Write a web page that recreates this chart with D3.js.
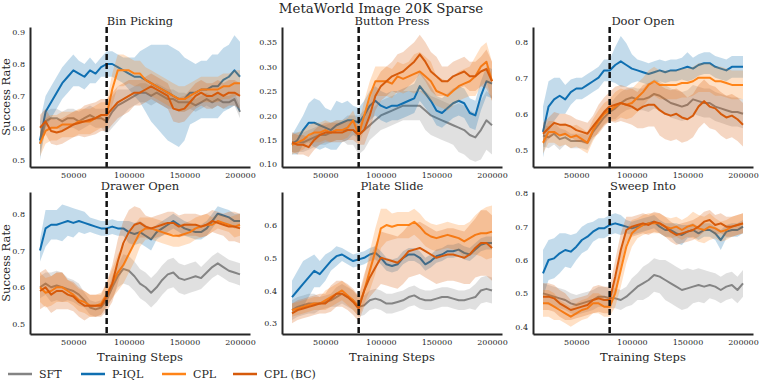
<!DOCTYPE html>
<html lang="en">
<head>
<meta charset="utf-8">
<title>MetaWorld Image 20K Sparse</title>
<script src="https://d3js.org/d3.v7.min.js"></script>
<style>
  body { margin: 0; background: #fff; }
  svg text { font-family: "DejaVu Serif", serif; fill: #262626; }
  .axis text { font-size: 8px; }
  .axis path { stroke: #262626; stroke-width: 2px; }
</style>
</head>
<body>
<script>
// training steps (x values)
const steps = [20000,25000,30000,35000,40000,45000,50000,55000,60000,65000,70000,75000,80000,85000,90000,95000,
  100000,105000,110000,115000,120000,125000,130000,135000,140000,145000,150000,155000,160000,165000,170000,175000,
  180000,185000,190000,195000,200000];

const methods = ["SFT", "P-IQL", "CPL", "CPL (BC)"];
const colors = ["#848484", "#0f6fb1", "#ff8418", "#d65a0b"];

// Bin Picking
const binSFT = [0.55,0.62,0.63,0.63,0.62,0.63,0.63,0.62,0.63,0.64,0.63,0.63,0.62,0.65,0.67,0.68,0.69,0.70,0.71,0.71,0.70,0.71,0.70,0.69,0.69,0.68,0.68,0.68,0.67,0.68,0.69,0.68,0.69,0.68,0.68,0.69,0.65];
const binSFTsd = [0.03,0.03,0.03,0.03,0.03,0.03,0.03,0.03,0.03,0.03,0.03,0.03,0.04,0.05,0.05,0.04,0.03,0.03,0.03,0.03,0.03,0.03,0.03,0.03,0.03,0.03,0.03,0.02,0.02,0.02,0.02,0.02,0.02,0.02,0.02,0.02,0.02];
const binPIQL = [0.56,0.65,0.68,0.71,0.74,0.76,0.78,0.77,0.76,0.78,0.77,0.79,0.80,0.80,0.79,0.78,0.77,0.76,0.76,0.75,0.74,0.73,0.72,0.71,0.70,0.69,0.69,0.71,0.71,0.72,0.72,0.73,0.73,0.75,0.76,0.78,0.76];
const binPIQLsd = [0.06,0.05,0.05,0.05,0.05,0.05,0.05,0.04,0.04,0.04,0.03,0.03,0.04,0.04,0.04,0.04,0.05,0.06,0.08,0.10,0.12,0.13,0.14,0.15,0.15,0.15,0.13,0.10,0.09,0.09,0.09,0.10,0.10,0.10,0.10,0.11,0.11];
const binCPL = [0.55,0.59,0.60,0.60,0.61,0.61,0.61,0.62,0.62,0.62,0.63,0.64,0.64,0.72,0.78,0.78,0.78,0.77,0.77,0.75,0.74,0.73,0.72,0.71,0.70,0.69,0.69,0.70,0.71,0.72,0.72,0.72,0.72,0.73,0.73,0.74,0.74];
const binCPLsd = [0.04,0.04,0.04,0.04,0.04,0.04,0.04,0.04,0.04,0.04,0.04,0.04,0.04,0.05,0.05,0.05,0.04,0.04,0.04,0.04,0.04,0.04,0.04,0.04,0.04,0.04,0.04,0.04,0.04,0.04,0.04,0.04,0.04,0.04,0.04,0.04,0.04];
const binBC = [0.60,0.62,0.59,0.585,0.59,0.60,0.61,0.615,0.62,0.625,0.63,0.64,0.64,0.66,0.68,0.69,0.70,0.71,0.71,0.72,0.73,0.72,0.71,0.70,0.66,0.655,0.66,0.68,0.70,0.71,0.70,0.70,0.71,0.70,0.71,0.71,0.70];
const binBCsd = [0.04,0.04,0.04,0.04,0.04,0.04,0.04,0.04,0.05,0.05,0.05,0.05,0.05,0.05,0.05,0.05,0.05,0.04,0.04,0.04,0.04,0.04,0.04,0.04,0.04,0.04,0.04,0.04,0.04,0.04,0.04,0.04,0.04,0.04,0.04,0.04,0.04];

// Button Press
const btnSFT = [0.145,0.145,0.145,0.15,0.155,0.16,0.16,0.165,0.17,0.17,0.17,0.17,0.16,0.17,0.18,0.19,0.20,0.205,0.21,0.215,0.22,0.22,0.22,0.22,0.21,0.20,0.195,0.19,0.185,0.18,0.175,0.17,0.16,0.155,0.17,0.19,0.18];
const btnSFTsd = [0.02,0.02,0.02,0.02,0.02,0.02,0.02,0.02,0.02,0.02,0.03,0.03,0.04,0.04,0.03,0.03,0.03,0.03,0.03,0.03,0.03,0.03,0.03,0.03,0.04,0.04,0.04,0.04,0.04,0.04,0.05,0.05,0.05,0.05,0.06,0.06,0.06];
const btnPIQL = [0.14,0.15,0.17,0.185,0.185,0.18,0.175,0.17,0.18,0.185,0.19,0.19,0.185,0.20,0.22,0.23,0.22,0.215,0.22,0.22,0.225,0.23,0.235,0.26,0.245,0.23,0.21,0.205,0.215,0.225,0.23,0.225,0.205,0.20,0.24,0.27,0.265];
const btnPIQLsd = [0.02,0.03,0.03,0.04,0.05,0.05,0.04,0.04,0.05,0.04,0.04,0.03,0.03,0.03,0.03,0.03,0.03,0.03,0.03,0.03,0.03,0.03,0.03,0.03,0.03,0.03,0.03,0.03,0.03,0.03,0.03,0.03,0.03,0.03,0.03,0.03,0.03];
const btnCPL = [0.14,0.145,0.15,0.16,0.165,0.165,0.17,0.165,0.17,0.17,0.175,0.19,0.16,0.20,0.24,0.27,0.27,0.27,0.265,0.28,0.275,0.28,0.285,0.29,0.28,0.27,0.25,0.245,0.24,0.25,0.26,0.265,0.27,0.28,0.30,0.31,0.27];
const btnCPLsd = [0.02,0.02,0.02,0.02,0.02,0.02,0.02,0.02,0.02,0.02,0.02,0.02,0.02,0.03,0.03,0.03,0.03,0.03,0.03,0.03,0.03,0.03,0.04,0.04,0.04,0.04,0.03,0.03,0.03,0.03,0.03,0.03,0.03,0.04,0.04,0.04,0.04];
const btnBC = [0.145,0.14,0.14,0.135,0.15,0.16,0.165,0.165,0.165,0.165,0.17,0.17,0.16,0.17,0.20,0.24,0.26,0.27,0.28,0.285,0.29,0.30,0.31,0.325,0.31,0.29,0.28,0.27,0.27,0.28,0.285,0.29,0.28,0.28,0.29,0.295,0.27];
const btnBCsd = [0.02,0.02,0.02,0.02,0.02,0.02,0.02,0.02,0.02,0.02,0.02,0.02,0.02,0.03,0.03,0.03,0.03,0.03,0.03,0.04,0.04,0.04,0.04,0.04,0.04,0.04,0.04,0.03,0.03,0.03,0.03,0.03,0.03,0.03,0.03,0.04,0.04];

// Door Open
const doorSFT = [0.54,0.535,0.545,0.53,0.535,0.525,0.525,0.525,0.52,0.55,0.57,0.59,0.605,0.615,0.63,0.64,0.645,0.64,0.64,0.645,0.655,0.65,0.64,0.63,0.625,0.62,0.625,0.64,0.635,0.63,0.63,0.62,0.615,0.61,0.605,0.605,0.60];
const doorSFTsd = [0.03,0.03,0.03,0.03,0.02,0.02,0.02,0.02,0.02,0.02,0.02,0.02,0.02,0.03,0.03,0.03,0.03,0.03,0.03,0.04,0.04,0.04,0.04,0.04,0.04,0.04,0.04,0.04,0.04,0.04,0.04,0.04,0.04,0.04,0.04,0.04,0.04];
const doorPIQL = [0.55,0.62,0.64,0.65,0.64,0.66,0.67,0.67,0.68,0.69,0.70,0.72,0.72,0.735,0.745,0.735,0.725,0.72,0.715,0.71,0.715,0.72,0.715,0.72,0.72,0.725,0.73,0.725,0.735,0.74,0.74,0.73,0.725,0.72,0.73,0.73,0.73];
const doorPIQLsd = [0.07,0.07,0.06,0.05,0.04,0.035,0.03,0.03,0.03,0.03,0.03,0.03,0.03,0.05,0.07,0.06,0.04,0.03,0.03,0.03,0.03,0.03,0.03,0.03,0.03,0.03,0.04,0.03,0.03,0.03,0.03,0.03,0.03,0.03,0.03,0.03,0.03];
const doorCPL = [0.52,0.55,0.55,0.54,0.545,0.535,0.54,0.53,0.52,0.555,0.58,0.60,0.61,0.62,0.63,0.625,0.63,0.645,0.66,0.68,0.69,0.68,0.68,0.68,0.68,0.685,0.685,0.69,0.70,0.70,0.70,0.69,0.69,0.685,0.68,0.68,0.68];
const doorCPLsd = [0.03,0.03,0.03,0.03,0.03,0.03,0.03,0.03,0.03,0.03,0.03,0.03,0.03,0.04,0.04,0.04,0.04,0.04,0.04,0.04,0.04,0.04,0.04,0.04,0.04,0.04,0.04,0.04,0.04,0.04,0.04,0.04,0.04,0.04,0.04,0.04,0.04];
const doorBC = [0.545,0.56,0.575,0.57,0.57,0.565,0.555,0.55,0.545,0.565,0.585,0.605,0.62,0.625,0.63,0.625,0.62,0.61,0.62,0.625,0.625,0.61,0.60,0.595,0.60,0.59,0.585,0.595,0.62,0.635,0.62,0.615,0.60,0.59,0.595,0.585,0.57];
const doorBCsd = [0.03,0.03,0.03,0.03,0.03,0.03,0.03,0.03,0.03,0.03,0.04,0.04,0.04,0.05,0.05,0.05,0.05,0.05,0.06,0.06,0.06,0.07,0.07,0.07,0.07,0.07,0.06,0.06,0.06,0.06,0.06,0.06,0.06,0.06,0.06,0.06,0.06];

// Drawer Open
const drawSFT = [0.60,0.61,0.60,0.605,0.60,0.595,0.59,0.58,0.565,0.545,0.54,0.545,0.565,0.60,0.63,0.65,0.645,0.63,0.61,0.60,0.585,0.60,0.62,0.635,0.64,0.625,0.62,0.625,0.63,0.625,0.64,0.655,0.665,0.655,0.645,0.64,0.635];
const drawSFTsd = [0.03,0.03,0.04,0.04,0.04,0.03,0.03,0.03,0.02,0.02,0.02,0.02,0.02,0.03,0.03,0.04,0.04,0.04,0.04,0.04,0.04,0.04,0.04,0.04,0.04,0.04,0.04,0.04,0.04,0.03,0.03,0.03,0.03,0.03,0.03,0.03,0.03];
const drawPIQL = [0.70,0.76,0.77,0.77,0.775,0.78,0.775,0.78,0.775,0.77,0.765,0.76,0.76,0.765,0.76,0.76,0.75,0.745,0.75,0.74,0.73,0.75,0.76,0.77,0.78,0.77,0.76,0.755,0.75,0.75,0.76,0.78,0.80,0.795,0.79,0.78,0.78];
const drawPIQLsd = [0.03,0.05,0.04,0.04,0.05,0.04,0.04,0.03,0.03,0.02,0.02,0.02,0.02,0.02,0.02,0.02,0.03,0.03,0.03,0.03,0.03,0.02,0.02,0.02,0.02,0.02,0.02,0.02,0.02,0.02,0.02,0.02,0.02,0.02,0.02,0.02,0.02];
const drawCPL = [0.60,0.585,0.59,0.60,0.60,0.59,0.58,0.565,0.56,0.55,0.55,0.555,0.58,0.61,0.64,0.66,0.69,0.72,0.75,0.76,0.76,0.755,0.75,0.745,0.74,0.74,0.745,0.75,0.76,0.765,0.77,0.77,0.78,0.775,0.77,0.765,0.77];
const drawCPLsd = [0.04,0.04,0.04,0.04,0.04,0.03,0.03,0.03,0.03,0.03,0.03,0.03,0.03,0.04,0.05,0.05,0.05,0.05,0.04,0.03,0.03,0.03,0.03,0.03,0.03,0.03,0.03,0.03,0.03,0.03,0.03,0.02,0.02,0.02,0.02,0.03,0.03];
const drawBC = [0.59,0.60,0.58,0.59,0.59,0.58,0.575,0.56,0.55,0.55,0.55,0.55,0.575,0.61,0.67,0.72,0.75,0.77,0.775,0.765,0.76,0.765,0.77,0.775,0.775,0.765,0.77,0.77,0.77,0.765,0.77,0.78,0.775,0.77,0.765,0.765,0.76];
const drawBCsd = [0.05,0.05,0.05,0.05,0.05,0.04,0.04,0.04,0.04,0.03,0.03,0.03,0.04,0.05,0.06,0.06,0.06,0.05,0.04,0.03,0.03,0.03,0.03,0.03,0.03,0.03,0.03,0.03,0.03,0.03,0.03,0.03,0.03,0.03,0.04,0.04,0.04];

// Plate Slide
const plateSFT = [0.34,0.35,0.355,0.36,0.36,0.36,0.365,0.37,0.38,0.39,0.38,0.37,0.35,0.355,0.37,0.375,0.37,0.36,0.36,0.365,0.37,0.38,0.385,0.375,0.37,0.37,0.375,0.38,0.38,0.375,0.37,0.37,0.375,0.38,0.40,0.405,0.40];
const plateSFTsd = [0.03,0.03,0.03,0.03,0.03,0.02,0.02,0.02,0.03,0.03,0.03,0.03,0.03,0.03,0.03,0.03,0.03,0.03,0.03,0.03,0.03,0.03,0.03,0.03,0.03,0.03,0.03,0.03,0.03,0.03,0.03,0.03,0.03,0.04,0.04,0.04,0.04];
const platePIQL = [0.38,0.40,0.42,0.44,0.46,0.45,0.47,0.49,0.505,0.51,0.50,0.49,0.495,0.50,0.51,0.515,0.50,0.48,0.475,0.48,0.50,0.51,0.51,0.50,0.48,0.49,0.505,0.51,0.52,0.52,0.525,0.515,0.51,0.525,0.54,0.545,0.545];
const platePIQLsd = [0.05,0.06,0.07,0.06,0.05,0.04,0.04,0.03,0.03,0.02,0.02,0.02,0.02,0.02,0.02,0.02,0.02,0.02,0.02,0.02,0.02,0.02,0.02,0.02,0.02,0.02,0.02,0.02,0.02,0.02,0.02,0.02,0.02,0.02,0.02,0.02,0.02];
const plateCPL = [0.34,0.345,0.35,0.355,0.36,0.36,0.37,0.38,0.39,0.40,0.385,0.37,0.35,0.40,0.46,0.52,0.59,0.60,0.595,0.60,0.60,0.60,0.61,0.595,0.575,0.565,0.56,0.565,0.57,0.565,0.56,0.55,0.56,0.57,0.575,0.575,0.58];
const plateCPLsd = [0.02,0.02,0.02,0.02,0.02,0.02,0.03,0.03,0.03,0.03,0.03,0.03,0.03,0.04,0.06,0.07,0.06,0.05,0.04,0.04,0.04,0.04,0.04,0.04,0.04,0.04,0.04,0.04,0.04,0.04,0.04,0.05,0.05,0.06,0.07,0.08,0.08];
const plateBC = [0.33,0.34,0.345,0.35,0.355,0.36,0.36,0.375,0.39,0.39,0.38,0.365,0.345,0.40,0.44,0.47,0.50,0.495,0.49,0.485,0.50,0.52,0.525,0.53,0.52,0.51,0.50,0.505,0.51,0.51,0.505,0.50,0.51,0.53,0.545,0.545,0.53];
const plateBCsd = [0.03,0.03,0.03,0.03,0.03,0.03,0.03,0.04,0.04,0.04,0.04,0.04,0.04,0.05,0.06,0.07,0.08,0.08,0.08,0.08,0.08,0.08,0.08,0.08,0.08,0.08,0.08,0.08,0.08,0.08,0.08,0.08,0.09,0.09,0.10,0.10,0.10];

// Sweep Into
const sweepSFT = [0.50,0.495,0.49,0.485,0.48,0.47,0.465,0.47,0.475,0.48,0.49,0.49,0.485,0.485,0.48,0.49,0.505,0.52,0.53,0.54,0.555,0.55,0.54,0.53,0.52,0.51,0.515,0.52,0.525,0.52,0.525,0.52,0.51,0.52,0.525,0.51,0.53];
const sweepSFTsd = [0.03,0.03,0.03,0.03,0.03,0.03,0.03,0.03,0.03,0.03,0.03,0.03,0.03,0.03,0.03,0.03,0.04,0.04,0.05,0.05,0.05,0.05,0.06,0.06,0.06,0.06,0.06,0.05,0.05,0.05,0.04,0.04,0.04,0.04,0.04,0.04,0.04];
const sweepPIQL = [0.56,0.60,0.605,0.62,0.63,0.625,0.64,0.66,0.67,0.685,0.695,0.695,0.705,0.71,0.705,0.70,0.695,0.70,0.705,0.71,0.715,0.70,0.69,0.69,0.68,0.675,0.685,0.69,0.68,0.69,0.69,0.68,0.66,0.685,0.69,0.69,0.70];
const sweepPIQLsd = [0.07,0.06,0.06,0.06,0.05,0.05,0.04,0.04,0.04,0.03,0.03,0.03,0.03,0.03,0.03,0.02,0.02,0.02,0.02,0.02,0.02,0.02,0.02,0.02,0.03,0.03,0.02,0.02,0.02,0.02,0.02,0.02,0.03,0.02,0.02,0.02,0.02];
const sweepCPL = [0.47,0.47,0.46,0.45,0.44,0.43,0.44,0.45,0.455,0.47,0.47,0.46,0.46,0.50,0.57,0.64,0.68,0.695,0.705,0.71,0.71,0.71,0.70,0.695,0.70,0.69,0.70,0.705,0.695,0.69,0.70,0.695,0.685,0.69,0.70,0.705,0.71];
const sweepCPLsd = [0.04,0.04,0.04,0.03,0.03,0.03,0.03,0.03,0.03,0.03,0.03,0.03,0.03,0.04,0.05,0.05,0.04,0.03,0.03,0.03,0.03,0.03,0.03,0.03,0.03,0.03,0.03,0.04,0.04,0.04,0.04,0.03,0.03,0.03,0.03,0.03,0.03];
const sweepBC = [0.49,0.49,0.485,0.47,0.46,0.45,0.455,0.46,0.465,0.48,0.485,0.48,0.48,0.55,0.63,0.69,0.70,0.705,0.71,0.705,0.715,0.71,0.70,0.685,0.675,0.68,0.685,0.69,0.70,0.715,0.72,0.705,0.71,0.70,0.70,0.705,0.71];
const sweepBCsd = [0.04,0.04,0.04,0.04,0.04,0.03,0.03,0.03,0.03,0.04,0.04,0.04,0.04,0.05,0.05,0.04,0.03,0.03,0.03,0.03,0.03,0.03,0.03,0.03,0.03,0.03,0.03,0.03,0.03,0.03,0.03,0.03,0.03,0.03,0.03,0.03,0.03];

const xTicks = [50000, 100000, 150000, 200000];
const switchStep = 80000;

// panel table built from the arrays above
const panels = [
  { title: "Bin Picking", yDom: [0.477, 0.916], yTicks: [0.5,0.6,0.7,0.8,0.9], fmt: ".1f",
    mean: [binSFT, binPIQL, binCPL, binBC], sd: [binSFTsd, binPIQLsd, binCPLsd, binBCsd] },
  { title: "Button Press", yDom: [0.0945, 0.381], yTicks: [0.10,0.15,0.20,0.25,0.30,0.35], fmt: ".2f",
    mean: [btnSFT, btnPIQL, btnCPL, btnBC], sd: [btnSFTsd, btnPIQLsd, btnCPLsd, btnBCsd] },
  { title: "Door Open", yDom: [0.453, 0.84], yTicks: [0.5,0.6,0.7,0.8], fmt: ".1f",
    mean: [doorSFT, doorPIQL, doorCPL, doorBC], sd: [doorSFTsd, doorPIQLsd, doorCPLsd, doorBCsd] },
  { title: "Drawer Open", yDom: [0.473, 0.859], yTicks: [0.5,0.6,0.7,0.8], fmt: ".1f",
    mean: [drawSFT, drawPIQL, drawCPL, drawBC], sd: [drawSFTsd, drawPIQLsd, drawCPLsd, drawBCsd] },
  { title: "Plate Slide", yDom: [0.267, 0.701], yTicks: [0.3,0.4,0.5,0.6], fmt: ".1f",
    mean: [plateSFT, platePIQL, plateCPL, plateBC], sd: [plateSFTsd, platePIQLsd, plateCPLsd, plateBCsd] },
  { title: "Sweep Into", yDom: [0.378, 0.804], yTicks: [0.4,0.5,0.6,0.7,0.8], fmt: ".1f",
    mean: [sweepSFT, sweepPIQL, sweepCPL, sweepBC], sd: [sweepSFTsd, sweepPIQLsd, sweepCPLsd, sweepBCsd] }
];

const W = 761, H = 381;
const lefts = [30, 282, 533];
const tops = [27, 192];
const heights = [140, 142];
const pw = 220;

const svg = d3.select("body").append("svg").attr("width", W).attr("height", H);

svg.append("text").attr("x", 381).attr("y", 12.5).attr("text-anchor", "middle")
   .style("font-size", "13.4px").text("MetaWorld Image 20K Sparse");

panels.forEach((p, i) => {
  const row = Math.floor(i / 3), col = i % 3;
  const ph = heights[row];
  const g = svg.append("g").attr("transform", `translate(${lefts[col]},${tops[row]})`);

  const x = d3.scaleLinear().domain([11000, 209000]).range([0, pw]);
  const y = d3.scaleLinear().domain(p.yDom).range([ph, 0]);

  g.append("clipPath").attr("id", "clip" + i)
   .append("rect").attr("width", pw).attr("height", ph);
  const plot = g.append("g").attr("clip-path", `url(#clip${i})`);

  p.mean.forEach((m, k) => {
    const rows = steps.map((s, j) => ({ s: s, m: m[j], e: p.sd[k][j] }));
    const area = d3.area().x(d => x(d.s)).y0(d => y(d.m - d.e)).y1(d => y(d.m + d.e));
    const line = d3.line().x(d => x(d.s)).y(d => y(d.m));
    plot.append("path").datum(rows).attr("d", area)
        .attr("fill", colors[k]).attr("fill-opacity", 0.25).attr("stroke", "none");
    plot.append("path").datum(rows).attr("d", line)
        .attr("fill", "none").attr("stroke", colors[k]).attr("stroke-width", 2)
        .attr("stroke-linejoin", "round");
  });

  // vertical dashed marker
  g.append("line").attr("x1", x(switchStep)).attr("x2", x(switchStep))
   .attr("y1", 0).attr("y2", ph)
   .attr("stroke", "#111").attr("stroke-width", 2.5).attr("stroke-dasharray", "6,3");

  g.append("g").attr("class", "axis").attr("transform", `translate(0,${ph})`)
   .call(d3.axisBottom(x).tickValues(xTicks).tickFormat(d3.format("d")).tickSize(0).tickPadding(5.5));
  g.append("g").attr("class", "axis")
   .call(d3.axisLeft(y).tickValues(p.yTicks).tickFormat(d3.format(p.fmt)).tickSize(0).tickPadding(5));

  g.append("text").attr("x", pw / 2).attr("y", -2).attr("text-anchor", "middle")
   .style("font-size", "11.5px").text(p.title);

  if (col === 0) {
    svg.append("text").attr("transform", `translate(10,${tops[row] + ph / 2}) rotate(-90)`)
       .attr("text-anchor", "middle").style("font-size", "11.5px").text("Success Rate");
  }
  if (row === 1) {
    svg.append("text").attr("x", lefts[col] + pw / 2).attr("y", 361).attr("text-anchor", "middle")
       .style("font-size", "11.5px").text("Training Steps");
  }
});

// legend
const legendX = [8, 81, 162, 233];
const leg = svg.append("g");
methods.forEach((m, k) => {
  leg.append("line").attr("x1", legendX[k]).attr("x2", legendX[k] + 24)
     .attr("y1", 374).attr("y2", 374).attr("stroke", colors[k]).attr("stroke-width", 2.5);
  leg.append("text").attr("x", legendX[k] + 31).attr("y", 378)
     .style("font-size", "11px").text(m);
});
</script>
</body>
</html>
